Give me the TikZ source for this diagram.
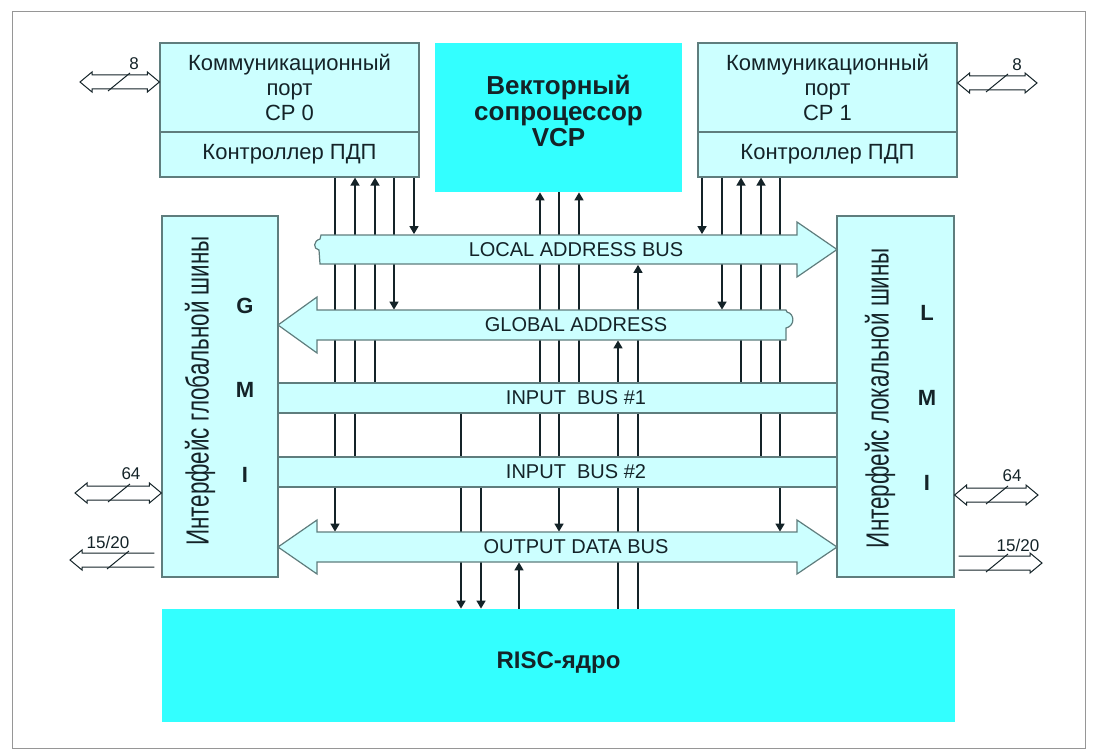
\documentclass[tikz,border=0pt]{standalone}
\usepackage{fontspec}
\setmainfont{Liberation Sans}
\usepackage{graphicx}
\usepackage{tikz}
\usetikzlibrary{arrows.meta, positioning, calc}
\pgfdeclarelayer{background}
\pgfsetlayers{background,main}
\definecolor{cyanlt}{RGB}{204,255,255}
\definecolor{cyanhi}{RGB}{51,255,255}
\definecolor{edgegray}{RGB}{95,125,125}
\definecolor{inkdark}{RGB}{20,35,40}
\definecolor{framegray}{RGB}{150,150,150}
\tikzset{
  portbox/.style={rectangle, draw=edgegray, fill=cyanlt, line width=0.6pt,
    text=inkdark, align=center, inner sep=0pt, font=\fontsize{11}{12.5}\selectfont},
  corebox/.style={rectangle, fill=cyanhi, inner sep=0pt},
  corename/.style={text=inkdark, align=center, inner sep=0pt,
    font=\bfseries\fontsize{13}{13}\selectfont},
  ifbox/.style={rectangle, draw=edgegray, fill=cyanlt, line width=0.6pt,
    minimum width=58pt, minimum height=180.5pt, inner sep=0pt},
  ifname/.style={rotate=90, text=inkdark, inner sep=0pt, font=\fontsize{16}{16}\selectfont},
  ifletter/.style={text=inkdark, inner sep=0pt, font=\bfseries\fontsize{11}{11}\selectfont},
  busname/.style={text=inkdark, inner sep=0pt, minimum height=15pt, font=\fontsize{10}{12}\selectfont},
  bus/.style={draw=edgegray, fill=cyanlt, line width=0.6pt},
  sig/.style={draw=inkdark, line width=0.8pt},
  sigarr/.style={sig, -{Triangle[length=4pt, width=4.5pt]}},
  portboth/.style={draw=inkdark, line width=0.5pt, fill=white, to path={
    ([xshift=6pt, yshift=3.5pt]\tikztostart) -- ([xshift=-6pt, yshift=3.5pt]\tikztotarget)
    -- ([xshift=-6pt, yshift=5pt]\tikztotarget) -- (\tikztotarget)
    -- ([xshift=-6pt, yshift=-5pt]\tikztotarget) -- ([xshift=-6pt, yshift=-3.5pt]\tikztotarget)
    -- ([xshift=6pt, yshift=-3.5pt]\tikztostart) -- ([xshift=6pt, yshift=-5pt]\tikztostart)
    -- (\tikztostart) -- ([xshift=6pt, yshift=5pt]\tikztostart) -- cycle}},
  portone/.style={draw=inkdark, line width=0.5pt, to path={
    ([yshift=3.5pt]\tikztostart) -- ([xshift={-(#1)*6pt}, yshift=3.5pt]\tikztotarget)
    -- ([xshift={-(#1)*6pt}, yshift=5pt]\tikztotarget) -- (\tikztotarget)
    -- ([xshift={-(#1)*6pt}, yshift=-5pt]\tikztotarget) -- ([xshift={-(#1)*6pt}, yshift=-3.5pt]\tikztotarget)
    -- ([yshift=-3.5pt]\tikztostart)}},
  portwidth/.style={font=\fontsize{8.5}{9}\selectfont, text=inkdark, inner sep=0pt},
  slash/.style={draw=inkdark, line width=0.5pt}
}

\begin{document}
\begin{tikzpicture}[x=0.5pt, y=-0.5pt]
  \useasboundingbox (0,0) rectangle (1096,754);
  \draw[framegray, line width=0.5pt] (12,12) rectangle (1085,748);

  \node[portbox, minimum width=129.5pt, minimum height=44.5pt] (cp0) at (289.5,87.5) {Коммуникационный\\порт\\CP 0};
  \node[portbox, minimum width=129.5pt, minimum height=22.5pt] (dma0) at (289.5,154.5) {Контроллер ПДП};
  \node[portbox, minimum width=129.5pt, minimum height=44.5pt] (cp1) at (827.5,87.5) {Коммуникационный\\порт\\CP 1};
  \node[portbox, minimum width=129.5pt, minimum height=22.5pt] (dma1) at (827.5,154.5) {Контроллер ПДП};
  \node[corebox, minimum width=123.5pt, minimum height=74.5pt] (vcp) at (558.5,117.5) {};
  \node[corename] (vcpname) at (558.5,111) {Векторный\\сопроцессор\\VCP};
  \node[corebox, minimum width=396.5pt, minimum height=56.5pt] (risc) at (558.5,665.5) {};
  \node[corename, font=\bfseries\fontsize{12}{12}\selectfont] (riscname) at (558.5,663) {RISC-ядро};

  \node[ifbox] (gmi) at (220,396.5) {};
  \node[ifname] (gminame) at (200,391) {\scalebox{0.7}[1]{Интерфейс глобальной шины}};
  \node[ifletter] (gmiG) at (245,306) {G};
  \node[ifletter] (gmiM) at (245,390) {M};
  \node[ifletter] (gmiI) at (245,475) {I};
  \node[ifbox, minimum width=58.5pt] (lmi) at (895.5,396.5) {};
  \node[ifname] (lminame) at (880,398) {\scalebox{0.7}[1]{Интерфейс локальной шины}};
  \node[ifletter] (lmiL) at (927,313) {L};
  \node[ifletter] (lmiM) at (927,398) {M};
  \node[ifletter] (lmiI) at (927,483) {I};

  \filldraw[bus] (321,235) -- (797,235) -- (797,222) -- (837,249.5) -- (797,277) -- (797,264) -- (320,264)
    -- (319,250) .. controls (313,249) and (313,241) .. (320,239) -- cycle;
  \filldraw[bus] (786,310) -- (317,310) -- (317,297) -- (278,325) -- (317,353) -- (317,340) -- (786,340)
    -- (786,328) .. controls (795,326) and (795,314) .. (787,312) -- cycle;
  \filldraw[bus] (278,383) rectangle (837,413);
  \filldraw[bus] (278,457) rectangle (837,487);
  \filldraw[bus] (278,547) -- (317,520) -- (317,532) -- (797,532) -- (797,520) -- (837,547)
    -- (797,574) -- (797,562) -- (317,562) -- (317,574) -- cycle;

  \node[busname] (la) at (576,249.5) {LOCAL ADDRESS BUS};
  \node[busname] (ga) at (576,325) {GLOBAL ADDRESS};
  \node[busname] (ib1) at (576,398) {INPUT\ \ BUS \#1};
  \node[busname] (ib2) at (576,472) {INPUT\ \ BUS \#2};
  \node[busname] (odb) at (576,547) {OUTPUT DATA BUS};

  \coordinate (w8l) at (80,82);
  \coordinate (w8r) at (1037,83);
  \coordinate (w64l) at (75,493);
  \coordinate (w64r) at (1038,495);
  \coordinate (w15l) at (70,560);
  \coordinate (w15r) at (1042,563);
  \draw[portboth] (w8l) to (cp0.west |- w8l);
  \draw[portboth] (cp1.east |- w8r) to (w8r);
  \draw[portboth] (w64l) to (gmi.west |- w64l);
  \draw[portboth] (lmi.east |- w64r) to (w64r);
  \draw[portone=-1] ([xshift=-3.5pt]gmi.west |- w15l) to (w15l);
  \draw[portone=1] ([xshift=2pt]lmi.east |- w15r) to (w15r);
  \draw[slash] (108,91) -- (130,73);
  \draw[slash] (986,92) -- (1008,74);
  \draw[slash] (108,502) -- (130,484);
  \draw[slash] (986,504) -- (1008,486);
  \draw[slash] (107,569) -- (129,551);
  \draw[slash] (986,572) -- (1008,554);
  \node[portwidth] (n8l) at (134,64) {8};
  \node[portwidth] (n8r) at (1017,65) {8};
  \node[portwidth] (n64l) at (131,474) {64};
  \node[portwidth] (n64r) at (1012,476) {64};
  \node[portwidth] (n15l) at (108,542) {15/20};
  \node[portwidth] (n15r) at (1018,545) {15/20};

  \begin{pgfonlayer}{background}
    \draw[sigarr] (335,0 |- dma0.south) -- (335,0 |- odb.north);
    \draw[sigarr] (355,0 |- ib2.north) -- (355,0 |- dma0.south);
    \draw[sigarr] (375,0 |- ib1.north) -- (375,0 |- dma0.south);
    \draw[sigarr] (394,0 |- dma0.south) -- (394,0 |- ga.north);
    \draw[sigarr] (414,0 |- dma0.south) -- (414,0 |- la.north);
    \draw[sigarr] (461,0 |- ib1.south) -- (461,0 |- risc.north);
    \draw[sigarr] (481,0 |- ib2.south) -- (481,0 |- risc.north);
    \draw[sigarr] (519,0 |- risc.north) -- (519,0 |- odb.south);
    \draw[sigarr] (540,0 |- ib2.north) -- (540,0 |- vcp.south);
    \draw[sigarr] (559,0 |- vcp.south) -- (559,0 |- odb.north);
    \draw[sigarr] (579,0 |- ib1.north) -- (579,0 |- vcp.south);
    \draw[sigarr] (618,0 |- risc.north) -- (618,0 |- ga.south);
    \draw[sigarr] (638,0 |- risc.north) -- (638,0 |- la.south);
    \draw[sigarr] (702,0 |- dma1.south) -- (702,0 |- la.north);
    \draw[sigarr] (722,0 |- dma1.south) -- (722,0 |- ga.north);
    \draw[sigarr] (741,0 |- ib1.north) -- (741,0 |- dma1.south);
    \draw[sigarr] (761,0 |- ib2.north) -- (761,0 |- dma1.south);
    \draw[sigarr] (780,0 |- dma1.south) -- (780,0 |- odb.north);
  \end{pgfonlayer}
\end{tikzpicture}
\end{document}
